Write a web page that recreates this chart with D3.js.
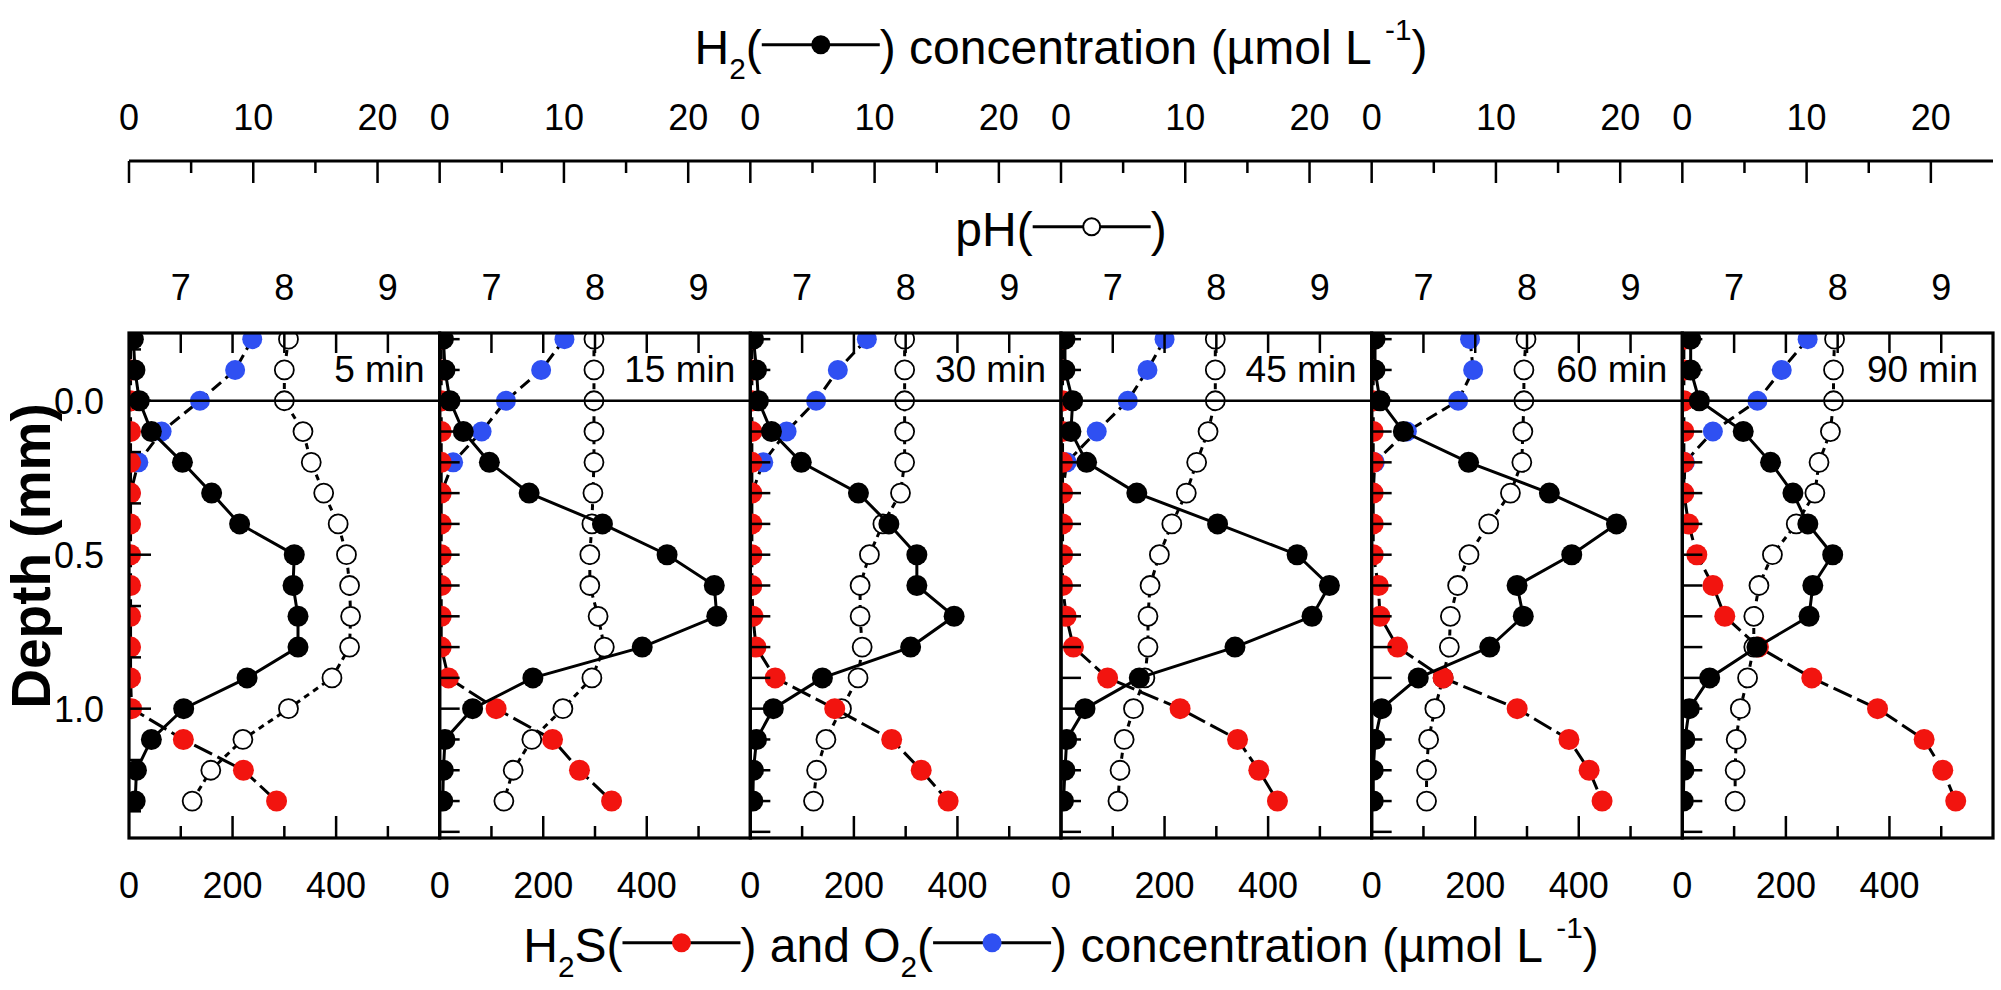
<!DOCTYPE html>
<html>
<head>
<meta charset="utf-8">
<script src="https://cdn.jsdelivr.net/npm/d3@7"></script>
<style>
  body { margin: 0; background: #fff; }
  svg { display: block; }
  text { font-family: "Liberation Sans", Arial, sans-serif; fill: #000; }
</style>
</head>
<body>
<svg id="chart" width="2001" height="990"></svg>
<script>
// depth rows (mm), one value per row in every profile
const depthMm = [-0.2, -0.1, 0.0, 0.1, 0.2, 0.3, 0.4, 0.5, 0.6, 0.7, 0.8, 0.9, 1.0, 1.1, 1.2, 1.3]
const panelLabels = ['5 min', '15 min', '30 min', '45 min', '60 min', '90 min']

// H2 (umol/L)
const h2Conc = [
  [0.35, 0.48, 0.83, 1.8, 4.3, 6.65, 8.9, 13.3, 13.2, 13.6, 13.6, 9.5, 4.4, 1.8, 0.6, 0.5],
  [0.3, 0.43, 0.83, 1.9, 4.0, 7.2, 13.1, 18.3, 22.1, 22.3, 16.3, 7.5, 2.65, 0.43, 0.3, 0.25],
  [0.25, 0.5, 0.65, 1.7, 4.1, 8.7, 11.15, 13.4, 13.4, 16.4, 12.9, 5.8, 1.85, 0.5, 0.25, 0.2],
  [0.32, 0.32, 0.94, 0.8, 2.06, 6.1, 12.6, 19.0, 21.6, 20.2, 14.0, 6.3, 1.93, 0.46, 0.32, 0.2],
  [0.27, 0.27, 0.67, 2.55, 7.8, 14.3, 19.7, 16.1, 11.7, 12.2, 9.5, 3.75, 0.8, 0.27, 0.13, 0.13],
  [0.67, 0.67, 1.37, 4.9, 7.1, 8.9, 10.1, 12.1, 10.5, 10.2, 6.0, 2.2, 0.56, 0.21, 0.13, 0.08]
]

// pH
const phValues = [
  [8.04, 8.0, 8.0, 8.18, 8.26, 8.38, 8.52, 8.6, 8.63, 8.64, 8.63, 8.46, 8.04, 7.6, 7.29, 7.11],
  [7.99, 7.99, 7.99, 7.99, 7.99, 7.98, 7.97, 7.95, 7.95, 8.03, 8.09, 7.97, 7.69, 7.39, 7.21, 7.12],
  [7.99, 7.99, 7.99, 7.99, 7.99, 7.95, 7.78, 7.65, 7.56, 7.56, 7.58, 7.54, 7.38, 7.23, 7.14, 7.11],
  [7.99, 7.99, 7.99, 7.92, 7.81, 7.71, 7.57, 7.45, 7.36, 7.34, 7.34, 7.31, 7.2, 7.11, 7.07, 7.05],
  [7.99, 7.97, 7.97, 7.96, 7.95, 7.84, 7.63, 7.44, 7.33, 7.26, 7.25, 7.19, 7.11, 7.05, 7.03, 7.03],
  [7.97, 7.96, 7.96, 7.93, 7.82, 7.78, 7.6, 7.37, 7.24, 7.19, 7.19, 7.13, 7.06, 7.02, 7.01, 7.01]
]

// H2S (umol/L)
const h2sConc = [
  [3, 3, 3, 3, 3, 3, 3, 3, 3, 3, 3, 3, 5, 105, 221, 285],
  [3, 3, 3, 3, 3, 3, 3, 3, 3, 3, 3, 17, 109, 218, 270, 332],
  [3, 3, 3, 3, 3, 3, 3, 3, 3, 5, 11, 48, 163, 273, 330, 382],
  [3, 3, 3, 3, 3, 3, 3, 3, 3, 10, 24, 90, 230, 341, 382, 418],
  [3, 3, 3, 3, 3, 3, 3, 3, 13, 16, 50, 138, 281, 381, 420, 445],
  [3, 3, 3, 3, 3, 3, 12, 28, 59, 82, 147, 250, 377, 467, 503, 528]
]

// O2 (umol/L), only the upper rows
const o2Conc = [
  [238, 205, 137, 63, 18, 3],
  [241, 196, 128, 81, 26, 3],
  [225, 169, 127, 70, 25, 3],
  [200, 167, 129, 69, 11, 3],
  [190, 196, 167, 68, 6, 3],
  [242, 192, 145, 59, 5, 3]
]

const h2Ticks = [0, 5, 10, 15, 20]
const h2Labels = [0, 10, 20]
const phTicks = [7, 7.5, 8, 8.5, 9]
const phLabels = [7, 8, 9]
const concTicks = [100, 200, 300, 400, 500]
const concLabels = [0, 200, 400]
const depthLabels = [0, 0.5, 1.0]

const red = '#f2140f'
const blue = '#2f50f2'

const svg = d3.select('#chart')

const plotLeft = 129
const plotRight = 1993
const plotTop = 333
const plotBottom = 838
const panelW = (plotRight - plotLeft) / panelLabels.length

const y = d3.scaleLinear().domain([-0.22, 1.42]).range([plotTop, plotBottom])

const h2x = d3.scaleLinear().domain([0, 25]).range([0, panelW])
const phx = d3.scaleLinear().domain([6.5, 9.5]).range([0, panelW])
const cx = d3.scaleLinear().domain([0, 600]).range([0, panelW])

const h2AxisY = 161

// continuous top H2 axis line
svg.append('line')
  .attr('x1', plotLeft).attr('x2', plotRight)
  .attr('y1', h2AxisY).attr('y2', h2AxisY)
  .attr('stroke', '#000').attr('stroke-width', 3)

panelLabels.forEach((label, p) => {
  const x0 = plotLeft + p * panelW
  const g = svg.append('g').attr('transform', `translate(${x0},0)`)

  g.append('clipPath').attr('id', 'clip' + p)
    .append('rect')
    .attr('x', 0).attr('y', plotTop)
    .attr('width', panelW).attr('height', plotBottom - plotTop)

  const layer = g.append('g').attr('clip-path', `url(#clip${p})`)

  const rows = (vals) => vals.map((v, i) => ({ v: v, d: depthMm[i] }))

  function series(vals, xs, opt) {
    const pts = rows(vals)
    const line = d3.line().x(d => xs(d.v)).y(d => y(d.d))
    layer.append('path')
      .datum(pts)
      .attr('d', line)
      .attr('fill', 'none')
      .attr('stroke', '#000')
      .attr('stroke-width', 3)
      .attr('stroke-dasharray', opt.dash || null)
    layer.selectAll(null)
      .data(pts)
      .enter().append('circle')
      .attr('cx', d => xs(d.v))
      .attr('cy', d => y(d.d))
      .attr('r', opt.r)
      .attr('fill', opt.fill)
      .attr('stroke', opt.stroke || 'none')
      .attr('stroke-width', opt.sw || 0)
  }

  series(phValues[p], phx, { dash: '6,5', r: 9.5, fill: '#fff', stroke: '#000', sw: 1.8 })
  series(o2Conc[p], cx, { dash: '12,6', r: 10, fill: blue })
  series(h2sConc[p], cx, { dash: '20,6', r: 10.5, fill: red })
  series(h2Conc[p], h2x, { r: 10.5, fill: '#000' })

  // sediment surface
  g.append('line')
    .attr('x1', 0).attr('x2', panelW)
    .attr('y1', y(0)).attr('y2', y(0))
    .attr('stroke', '#000').attr('stroke-width', 2.5)

  // frame
  g.append('rect')
    .attr('x', 0).attr('y', plotTop)
    .attr('width', panelW).attr('height', plotBottom - plotTop)
    .attr('fill', 'none').attr('stroke', '#000').attr('stroke-width', 3.2)

  // pH ticks on top edge (inward)
  g.selectAll(null).data(phTicks).enter().append('line')
    .attr('x1', d => phx(d)).attr('x2', d => phx(d))
    .attr('y1', plotTop).attr('y2', plotTop + 20)
    .attr('stroke', '#000').attr('stroke-width', 2.5)
  g.selectAll(null).data(phLabels).enter().append('text')
    .attr('x', d => phx(d)).attr('y', 300)
    .attr('text-anchor', 'middle')
    .style('font-size', '36px')
    .text(d => d)

  // concentration ticks on bottom edge (inward)
  g.selectAll(null).data(concTicks).enter().append('line')
    .attr('x1', d => cx(d)).attr('x2', d => cx(d))
    .attr('y1', plotBottom).attr('y2', d => plotBottom - (d % 200 === 0 ? 22 : 12))
    .attr('stroke', '#000').attr('stroke-width', 2.5)
  g.selectAll(null).data(concLabels).enter().append('text')
    .attr('x', d => cx(d)).attr('y', 898)
    .attr('text-anchor', 'middle')
    .style('font-size', '36px')
    .text(d => d)

  // H2 axis ticks
  g.selectAll(null).data(h2Ticks).enter().append('line')
    .attr('x1', d => h2x(d)).attr('x2', d => h2x(d))
    .attr('y1', h2AxisY).attr('y2', d => h2AxisY + (d % 10 === 0 ? 22 : 12))
    .attr('stroke', '#000').attr('stroke-width', 2.5)
  g.selectAll(null).data(h2Labels).enter().append('text')
    .attr('x', d => h2x(d)).attr('y', 130)
    .attr('text-anchor', 'middle')
    .style('font-size', '36px')
    .text(d => d)

  // depth ticks on the left edge
  let dTicks
  if (p === 0) dTicks = d3.range(-1, 9).map(k => k / 6)
  else dTicks = d3.range(-2, 15).map(k => k / 10)
  g.selectAll(null).data(dTicks).enter().append('line')
    .attr('x1', 0)
    .attr('x2', d => {
      if (p !== 0) return 20
      return Math.abs(d * 2 - Math.round(d * 2)) < 1e-6 ? 22 : 12
    })
    .attr('y1', d => y(d)).attr('y2', d => y(d))
    .attr('stroke', '#000').attr('stroke-width', 2.5)

  g.append('text')
    .attr('x', panelW - 15).attr('y', 382)
    .attr('text-anchor', 'end')
    .style('font-size', '37px')
    .text(label)
})

// depth labels on the first panel
svg.selectAll(null).data(depthLabels).enter().append('text')
  .attr('x', 104).attr('y', d => y(d))
  .attr('dy', '0.36em')
  .attr('text-anchor', 'end')
  .style('font-size', '36px')
  .text(d => d3.format('.1f')(d))

svg.append('text')
  .attr('transform', 'translate(50,556) rotate(-90)')
  .attr('text-anchor', 'middle')
  .style('font-size', '55px')
  .style('font-weight', 'bold')
  .text('Depth (mm)')

// titles with inline legend glyphs
function richText(cxPos, baseY, parts, size) {
  const g = svg.append('g')
  const glyphW = 118
  let x = 0
  parts.forEach(part => {
    if (part.glyph) {
      const gy = -size * 0.4
      g.append('line')
        .attr('x1', x).attr('x2', x + glyphW)
        .attr('y1', gy).attr('y2', gy)
        .attr('stroke', '#000').attr('stroke-width', 3)
      g.append('circle')
        .attr('cx', x + glyphW / 2).attr('cy', gy)
        .attr('r', part.glyph === 'open' ? 8.5 : 9.5)
        .attr('fill', part.glyph === 'open' ? '#fff' : part.glyph)
        .attr('stroke', part.glyph === 'open' ? '#000' : 'none')
        .attr('stroke-width', 2)
      x += glyphW
    } else {
      const small = part.sub || part.sup
      const dy = part.sub ? size * 0.32 : part.sup ? -size * 0.5 : 0
      const t = g.append('text')
        .attr('x', x).attr('y', dy)
        .style('font-size', (small ? size * 0.62 : size) + 'px')
        .text(part.t)
      x += t.node().getComputedTextLength()
    }
  })
  g.attr('transform', `translate(${cxPos - x / 2},${baseY})`)
}

const midX = (plotLeft + plotRight) / 2

richText(midX, 64, [
  { t: 'H' }, { t: '2', sub: true }, { t: '(' }, { glyph: '#000' }, { t: ')' },
  { t: '\u00a0concentration (\u00b5mol L\u00a0' }, { t: '-1', sup: true }, { t: ')' }
], 48)

richText(midX, 246, [
  { t: 'pH(' }, { glyph: 'open' }, { t: ')' }
], 48)

richText(midX, 962, [
  { t: 'H' }, { t: '2', sub: true }, { t: 'S(' }, { glyph: red }, { t: ')' },
  { t: '\u00a0and O' }, { t: '2', sub: true }, { t: '(' }, { glyph: blue }, { t: ')' },
  { t: '\u00a0concentration (\u00b5mol L\u00a0' }, { t: '-1', sup: true }, { t: ')' }
], 48)
</script>
</body>
</html>
